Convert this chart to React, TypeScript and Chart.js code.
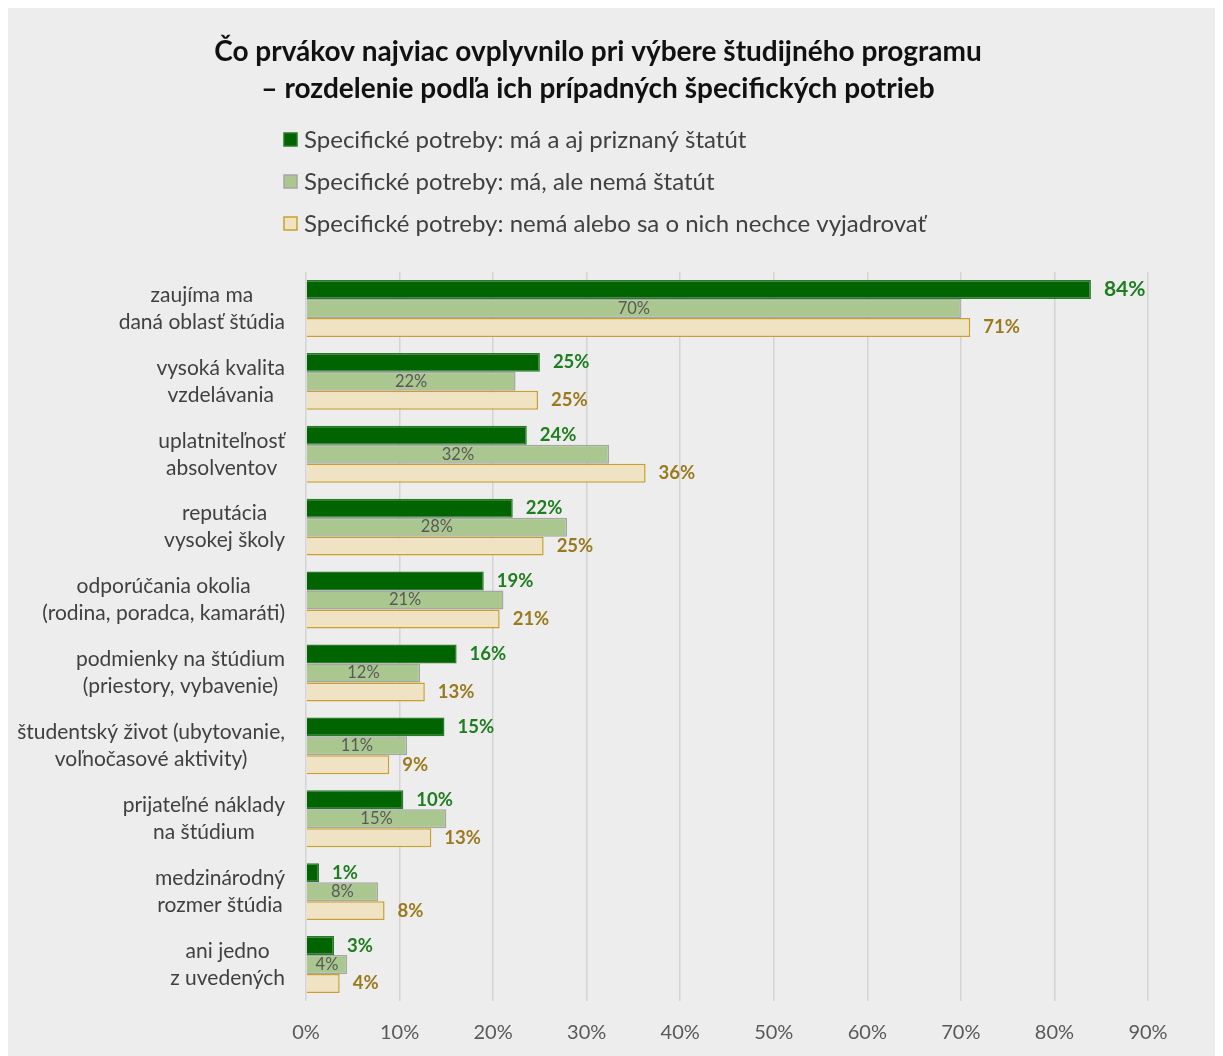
import React, { useEffect, useRef } from "react";
import { Chart, registerables } from "chart.js";

Chart.register(...registerables);

const titleLines = [
  "Čo prvákov najviac ovplyvnilo pri výbere študijného programu",
  "– rozdelenie podľa ich prípadných špecifických potrieb",
];

const categories: string[][] = [
  ["zaujíma ma", "daná oblasť štúdia"],
  ["vysoká kvalita", "vzdelávania"],
  ["uplatniteľnosť", "absolventov"],
  ["reputácia", "vysokej školy"],
  ["odporúčania okolia", "(rodina, poradca, kamaráti)"],
  ["podmienky na štúdium", "(priestory, vybavenie)"],
  ["študentský život (ubytovanie,", "voľnočasové aktivity)"],
  ["prijateľné náklady", "na štúdium"],
  ["medzinárodný", "rozmer štúdia"],
  ["ani jedno", "z uvedených"],
];

const seriesNames = [
  "Specifické potreby: má a aj priznaný štatút",
  "Specifické potreby: má, ale nemá štatút",
  "Specifické potreby: nemá alebo sa o nich nechce vyjadrovať",
];

const hasStatus = [83.9, 25.0, 23.6, 22.1, 19.0, 16.1, 14.8, 10.4, 1.4, 3.0];
const noStatus = [70.0, 22.4, 32.4, 27.9, 21.1, 12.2, 10.8, 15.0, 7.7, 4.4];
const noneOrUndisclosed = [71.0, 24.8, 36.3, 25.4, 20.7, 12.7, 8.9, 13.4, 8.4, 3.6];

const xTicks = [0, 10, 20, 30, 40, 50, 60, 70, 80, 90];

const FONT = "Lato, 'Open Sans', sans-serif";

export default function App() {
  const ref = useRef<HTMLCanvasElement | null>(null);

  useEffect(() => {
    document.documentElement.style.overflow = "hidden";
    document.body.style.overflow = "hidden";
    const canvas = ref.current!;
    const colors = ["#006400", "#a9c78e", "#f0e3c4"];
    const borders = ["#2a7a2a", "#a6a6a6", "#c9a12a"];
    const labelColors = ["#1e7d1e", "#595959", "#9a7a1c"];

    const decor = {
      id: "decor",
      beforeDraw(chart: any) {
        const ctx = chart.ctx;
        ctx.save();
        ctx.fillStyle = "#ededed";
        ctx.fillRect(0, 0, chart.width, chart.height);
        ctx.restore();
      },
      afterDraw(chart: any) {
        const ctx = chart.ctx;
        ctx.save();
        // title
        ctx.fillStyle = "#111111";
        ctx.font = `bold 28px ${FONT}`;
        ctx.textAlign = "center";
        ctx.textBaseline = "middle";
        titleLines.forEach((t, i) => ctx.fillText(t, 590, 44 + i * 37));
        // legend
        ctx.font = `24px ${FONT}`;
        ctx.textAlign = "left";
        seriesNames.forEach((n, i) => {
          const y = 132 + i * 42;
          ctx.fillStyle = colors[i];
          ctx.fillRect(276, y - 7, 13, 13);
          ctx.strokeStyle = borders[i];
          ctx.lineWidth = 1.5;
          ctx.strokeRect(276, y - 7, 13, 13);
          ctx.fillStyle = "#404040";
          ctx.fillText(n, 296, y);
        });
        // y labels
        const ys = chart.scales.y;
        ctx.font = `21px ${FONT}`;
        ctx.fillStyle = "#404040";
        ctx.textAlign = "center";
        categories.forEach((lines, i) => {
          const cy = ys.getPixelForTick(i);
          const w = Math.max(...lines.map((l) => ctx.measureText(l).width));
          const cx = 277 - w / 2;
          lines.forEach((l, j) => {
            ctx.fillText(l, cx, cy + (j - (lines.length - 1) / 2) * 27);
          });
        });
        ctx.restore();
      },
      afterDatasetsDraw(chart: any) {
        const ctx = chart.ctx;
        ctx.save();
        ctx.textBaseline = "middle";
        chart.data.datasets.forEach((ds: any, di: number) => {
          const meta = chart.getDatasetMeta(di);
          meta.data.forEach((el: any, i: number) => {
            const v = Math.round(ds.data[i]) + "%";
            ctx.fillStyle = labelColors[di];
            if (di === 1) {
              ctx.font = `16.5px ${FONT}`;
              ctx.textAlign = "center";
              ctx.fillText(v, (el.base + el.x) / 2, el.y);
            } else {
              ctx.font = `bold ${di === 0 && i === 0 ? 21 : 18.5}px ${FONT}`;
              ctx.textAlign = "left";
              ctx.fillText(v, el.x + 13, el.y);
            }
          });
        });
        ctx.restore();
      },
    };

    const chart = new Chart(canvas, {
      type: "bar",
      data: {
        labels: categories.map((c) => c.join(" ")),
        datasets: [hasStatus, noStatus, noneOrUndisclosed].map((d, i) => ({
          label: seriesNames[i],
          data: d,
          backgroundColor: colors[i],
          borderColor: borders[i],
          borderWidth: 1.5,
          categoryPercentage: 0.78,
          barPercentage: 1.0,
        })),
      },
      options: {
        indexAxis: "y",
        responsive: false,
        animation: false,
        layout: { padding: { top: 264, left: 0, right: 75, bottom: 0 } },
        plugins: {
          legend: { display: false },
          title: { display: false },
          tooltip: { enabled: false },
        },
        scales: {
          x: {
            min: 0,
            max: 90,
            afterBuildTicks: (s: any) => {
              s.ticks = xTicks.map((v) => ({ value: v }));
            },
            afterFit: (s: any) => {
              s.height = 55;
            },
            grid: { color: "#d4d4d4", lineWidth: 1.5, drawTicks: false },
            border: { display: false },
            ticks: {
              padding: 20,
              color: "#595959",
              font: { family: FONT, size: 20 },
              callback: (v: any) => v + "%",
            },
          },
          y: {
            afterFit: (s: any) => {
              s.width = 298;
            },
            grid: { display: false },
            border: { display: false },
            ticks: { display: false },
          },
        },
      },
      plugins: [decor],
    } as any);
    return () => chart.destroy();
  }, []);

  return (
    <canvas
      ref={ref}
      width={1215}
      height={1048}
      style={{ display: "block", width: 1215, height: 1048 }}
    />
  );
}
